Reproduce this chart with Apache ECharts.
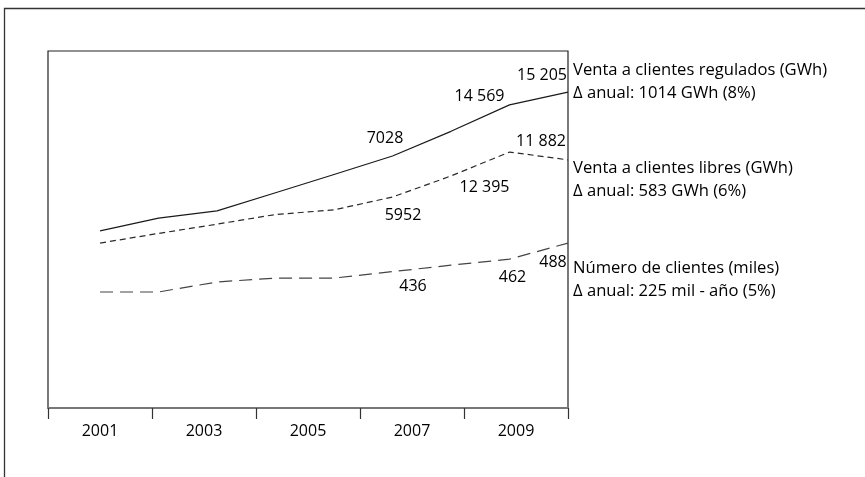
<!DOCTYPE html>
<html>
<head>
<meta charset="utf-8">
<script src="https://cdn.jsdelivr.net/npm/echarts@6/dist/echarts.min.js"></script>
<style>
  html, body { margin: 0; padding: 0; background: #fff; }
  #chart { width: 865px; height: 477px; }
</style>
</head>
<body>
<div id="chart"></div>
<script>
// tick labels of the year axis
const yearTicks = ['2001', '2003', '2005', '2007', '2009'];
// years of the plotted points
const years = [2001, 2002, 2003, 2004, 2005, 2006, 2007, 2008, 2009];
// line heights (relative scale 0-100, no visible axis)
const regulados = [49.6, 53.2, 55.2, 60.3, 65.4, 70.6, 77.5, 84.9, 88.5];
const libres = [46.2, 48.9, 51.5, 54.2, 55.5, 59.1, 65.0, 71.7, 69.5];
const clientes = [32.5, 32.5, 35.3, 36.4, 36.4, 38.2, 40.0, 41.7, 46.2];
// printed values for the last three years
const labelYears = [2007, 2008, 2009];
const reguladosVals = [7028, 14569, 15205];
const libresVals = [5952, 12395, 11882];
const clientesVals = [436, 462, 488];
// series names shown at the right
const names = [
  'Venta a clientes regulados (GWh)\nΔ anual: 1014 GWh (8%)',
  'Venta a clientes libres (GWh)\nΔ anual: 583 GWh (6%)',
  'Número de clientes (miles)\nΔ anual: 225 mil - año (5%)'
];

const FONT = '"Open Sans", "Noto Sans", sans-serif';
const TXT = '#000';

function fmt(n) {
  return n >= 10000 ? String(n).replace(/\B(?=(\d{3})+(?!\d))/g, ' ') : String(n);
}

// where each printed value sits relative to its point
const offsets = [
  [[-66, 7], [-30, -8], [-26, -17]],
  [[-48, 39], [-25, 35], [-27, -18]],
  [[-38, 21], [3, 18], [-15, 19]]
];

function buildData(vals, printed, k) {
  return years.map(function (y, i) {
    let item = { value: [y, vals[i]] };
    let j = labelYears.indexOf(y);
    if (j >= 0) {
      item.label = {
        show: true,
        position: 'inside',
        formatter: fmt(printed[j]),
        offset: offsets[k][j],
        fontFamily: FONT,
        fontSize: 16,
        color: TXT
      };
    }
    return item;
  });
}

function makeSeries(vals, printed, k, lineType, color, endDy) {
  return {
    type: 'line',
    xAxisIndex: 1,
    data: buildData(vals, printed, k),
    symbol: 'circle',
    symbolSize: 2,
    showSymbol: true,
    lineStyle: { color: color, width: 1.2, type: lineType },
    itemStyle: { color: 'rgba(0,0,0,0)', borderWidth: 0 },
    label: { show: false },
    endLabel: {
      show: true,
      formatter: names[k],
      distance: 5,
      offset: [0, endDy],
      align: 'left',
      verticalAlign: 'middle',
      fontFamily: FONT,
      fontSize: 16.6,
      lineHeight: 23,
      color: TXT
    },
    emphasis: { disabled: true },
    silent: true
  };
}

let myChart = echarts.init(document.getElementById('chart'));
let option = {
  animation: false,
  backgroundColor: '#fff',
  graphic: [{
    type: 'rect',
    shape: { x: 4.5, y: 8.5, width: 900, height: 500 },
    style: { fill: 'none', stroke: '#333', lineWidth: 1.3 },
    silent: true
  }],
  grid: {
    left: 48, top: 51, right: 297, bottom: 69,
    show: true, borderColor: '#222', borderWidth: 1.2
  },
  xAxis: [{
    type: 'category',
    data: yearTicks,
    boundaryGap: true,
    z: 5,
    axisLine: { show: true, lineStyle: { color: '#777', width: 2 } },
    axisTick: { show: true, alignWithLabel: false, length: 11, lineStyle: { color: '#333', width: 1.2 } },
    axisLabel: { show: true, margin: 15, fontFamily: FONT, fontSize: 16, color: TXT },
    splitLine: { show: false }
  }, {
    type: 'value',
    show: false,
    min: 2000.11,
    max: 2009,
    splitLine: { show: false }
  }],
  yAxis: { type: 'value', show: false, min: 0, max: 100, splitLine: { show: false } },
  series: [
    makeSeries(regulados, reguladosVals, 0, 'solid', '#1a1a1a', -10.5),
    makeSeries(libres, libresVals, 1, [6, 4], '#2a2a2a', 20),
    makeSeries(clientes, clientesVals, 2, [13, 7], '#444', 37)
  ]
};
myChart.setOption(option, true, true);
window.addEventListener('resize', function () {
  myChart.resize();
});
</script>
</body>
</html>
